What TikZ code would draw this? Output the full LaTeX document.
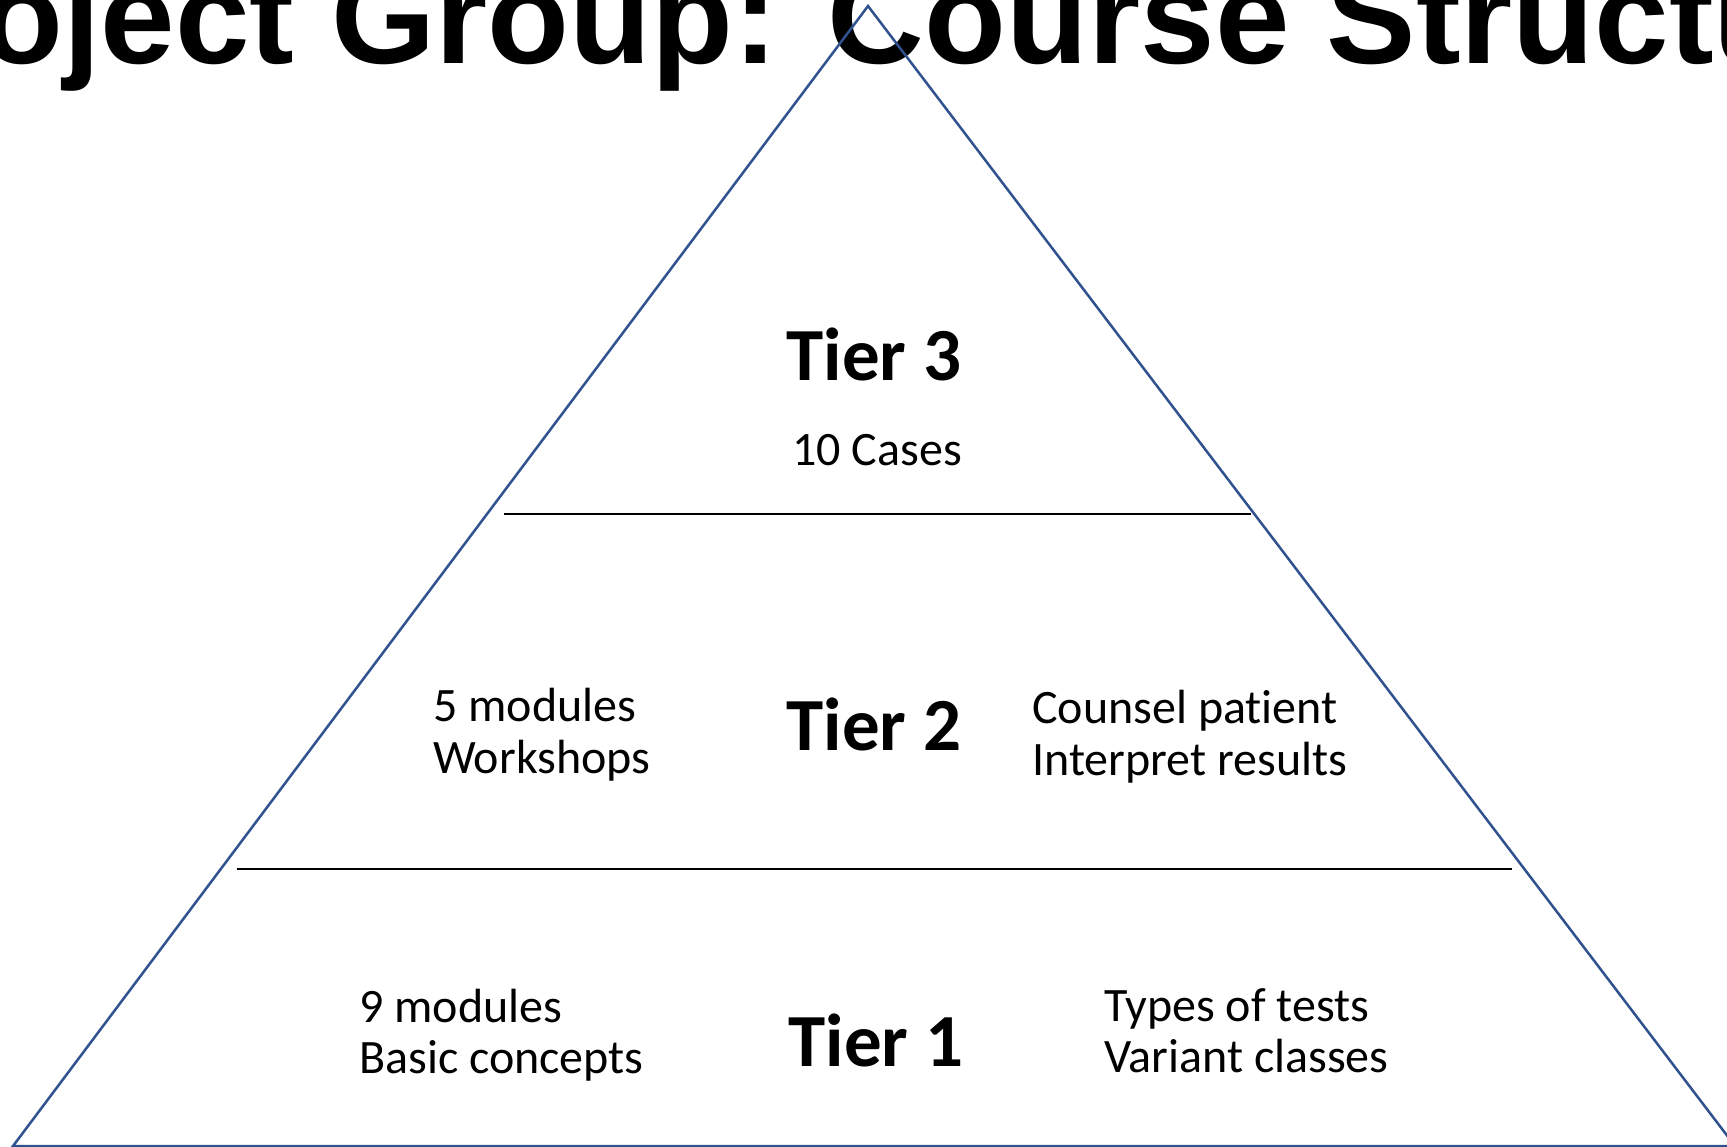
\documentclass[tikz,border=0pt]{standalone}
\usepackage{fontspec}
\setmainfont{Carlito}[Ligatures=NoCommon]
\newfontfamily\titlefont{Liberation Sans}
\definecolor{pyrblue}{RGB}{47,82,143}
\begin{document}
\begin{tikzpicture}[x=1pt,y=-1pt,
  edge/.style={draw=pyrblue,line width=2.5pt,line join=miter},
  sep/.style={draw=black,line width=1.8pt},
  tier/.style={inner sep=0pt,anchor=base,font=\fontsize{75}{90}\selectfont\bfseries},
  body/.style={inner sep=0pt,anchor=base west,font=\fontsize{48}{58}\selectfont},
  ttl/.style={inner sep=0pt,anchor=base west,font=\fontsize{134}{160}\selectfont\titlefont\bfseries}]
\useasboundingbox (0,0) rectangle (1727,1147);
\clip (0,0) rectangle (1727,1147);
\fill[white] (0,0) rectangle (1727,1147);
% title (cropped by the page)
\node[ttl] (title) at (-160,64) {Project Group: Course Structure};
% pyramid
\coordinate (apex) at (868,6);
\coordinate (bl) at (13,1146);
\coordinate (br) at (1735,1146);
\draw[edge] (apex) -- (br) -- (bl) -- cycle;
% separators
\coordinate (s1l) at (504,514);
\coordinate (s1r) at (1251,514);
\coordinate (s2l) at (237,869);
\coordinate (s2r) at (1512,869);
\draw[sep] (s1l) -- (s1r);
\draw[sep] (s2l) -- (s2r);
% tier 3
\node[tier] (t3) at (874,381) {Tier 3};
\node[inner sep=0pt,anchor=base,font=\fontsize{48}{58}\selectfont] (t3a) at (877,465) {10 Cases};
% tier 2
\node[tier] (t2) at (874,750) {Tier 2};
\node[body] (t2la) at (433,721) {5 modules};
\node[body] (t2lb) at (433,773) {Workshops};
\node[body] (t2ra) at (1032,723) {Counsel patient};
\node[body] (t2rb) at (1032,775) {Interpret results};
% tier 1
\node[tier] (t1) at (876,1066) {Tier 1};
\node[body] (t1la) at (359,1022) {9 modules};
\node[body] (t1lb) at (359,1073) {Basic concepts};
\node[body] (t1ra) at (1104,1021) {Types of tests};
\node[body] (t1rb) at (1104,1072) {Variant classes};
\end{tikzpicture}
\end{document}
